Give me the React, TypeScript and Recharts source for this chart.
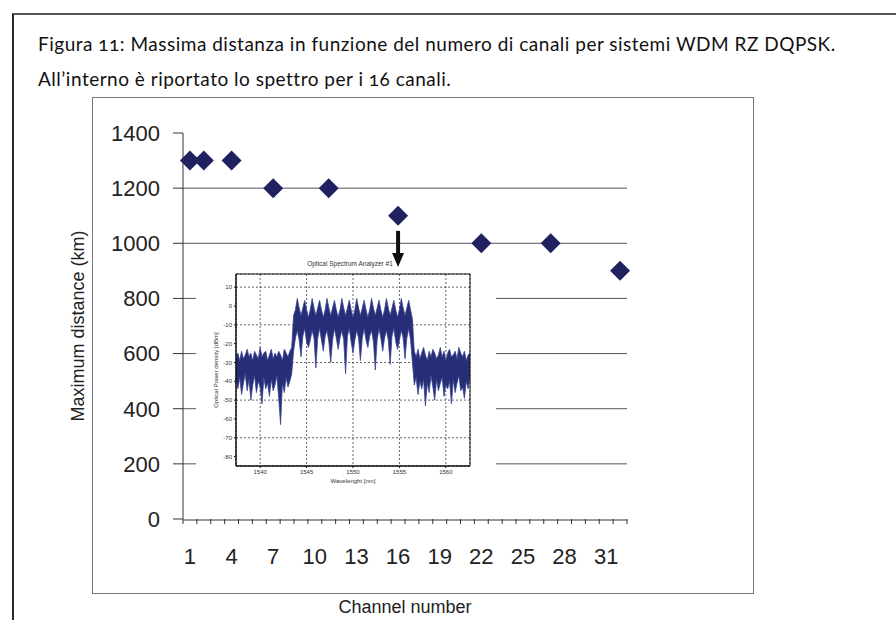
import {
  Area,
  CartesianGrid,
  ComposedChart,
  ReferenceArea,
  ReferenceDot,
  Scatter,
  ScatterChart,
  XAxis,
  YAxis,
} from 'recharts';

// main chart: max distance vs number of channels
const channels = [1, 2, 4, 7, 11, 16, 22, 27, 32];
const maxDistance = [1300, 1300, 1300, 1200, 1200, 1100, 1000, 1000, 900];
const channelLabelTicks = [1, 4, 7, 10, 13, 16, 19, 22, 25, 28, 31];
const channelTickMarks = [
  0.5, 1.5, 2.5, 3.5, 4.5, 5.5, 6.5, 7.5, 8.5, 9.5, 10.5, 11.5, 12.5, 13.5,
  14.5, 15.5, 16.5, 17.5, 18.5, 19.5, 20.5, 21.5, 22.5, 23.5, 24.5, 25.5,
  26.5, 27.5, 28.5, 29.5, 30.5, 31.5, 32.5,
];
const distanceTicks = [0, 200, 400, 600, 800, 1000, 1200, 1400];
const distanceGrid = [200, 400, 600, 800, 1000, 1200];
const arrowChannel = 16;
const arrowTop = 1045;

// inset: optical spectrum for 16 channels
const spectrumWavelength = [
  1537.4, 1537.6, 1537.8, 1538.0, 1538.2, 1538.4, 1538.6, 1538.8, 1539.0, 1539.2,
  1539.4, 1539.6, 1539.8, 1540.0, 1540.2, 1540.4, 1540.6, 1540.8, 1541.0, 1541.2,
  1541.4, 1541.6, 1541.8, 1542.0, 1542.2, 1542.4, 1542.6, 1542.8, 1543.0, 1543.2,
  1543.4,
  1543.6, 1543.8, 1544.0, 1544.2, 1544.4, 1544.6, 1544.8, 1545.0, 1545.2, 1545.4,
  1545.6, 1545.8, 1546.0, 1546.2, 1546.4, 1546.6, 1546.8, 1547.0, 1547.2, 1547.4,
  1547.6, 1547.8, 1548.0, 1548.2, 1548.4, 1548.6, 1548.8, 1549.0, 1549.2, 1549.4,
  1549.6, 1549.8, 1550.0, 1550.2, 1550.4, 1550.6, 1550.8, 1551.0, 1551.2, 1551.4,
  1551.6, 1551.8, 1552.0, 1552.2, 1552.4, 1552.6, 1552.8, 1553.0, 1553.2, 1553.4,
  1553.6, 1553.8, 1554.0, 1554.2, 1554.4, 1554.6, 1554.8, 1555.0, 1555.2, 1555.4,
  1555.6, 1555.8, 1556.0, 1556.2, 1556.4,
  1556.6, 1556.8, 1557.0, 1557.2, 1557.4, 1557.6, 1557.8, 1558.0, 1558.2, 1558.4,
  1558.6, 1558.8, 1559.0, 1559.2, 1559.4, 1559.6, 1559.8, 1560.0, 1560.2, 1560.4,
  1560.6, 1560.8, 1561.0, 1561.2, 1561.4, 1561.6, 1561.8, 1562.0, 1562.2, 1562.4,
  1562.6,
];
const spectrumHigh = [
  -27, -25, -29, -24, -28, -26, -23, -27, -25, -29, -24, -26, -28, -22, -27, -25,
  -24, -29, -26, -23, -28, -25, -27, -24, -26, -29, -23, -25, -27, -24, -22,
  -5,
  -2, 4, -1, -5, -1, 3, -2, -6, -2, 4, -1, -5, -1, 3, -2, -6,
  -2, 4, -1, -5, -1, 3, -2, -6, -2, 4, -1, -5, -1, 3, -2, -6,
  -2, 4, -1, -5, -1, 3, -2, -6, -2, 4, -1, -5, -1, 3, -2, -6,
  -2, 4, -1, -5, -1, 3, -2, -6, -2, 4, -1, -5, -1, 3, -2, -7,
  -24, -27, -23, -28, -25, -22, -26, -29, -24, -27, -23, -25, -28, -26, -22, -27,
  -24, -29, -25, -23, -27, -26, -24, -28, -22, -25, -27, -24, -29, -26, -25,
];
const spectrumLow = [
  -40, -44, -38, -47, -41, -36, -45, -39, -50, -42, -37, -46, -40, -43, -52, -38,
  -44, -41, -48, -39, -45, -42, -37, -49, -63, -41, -46, -38, -43, -40, -36,
  -24,
  -17, -13, -18, -27, -16, -12, -19, -22, -18, -13, -17, -33, -17, -12, -18, -24,
  -16, -13, -19, -30, -18, -12, -17, -23, -17, -13, -18, -36, -16, -12, -19, -25,
  -18, -13, -17, -29, -17, -12, -18, -22, -16, -13, -19, -34, -18, -12, -17, -24,
  -17, -13, -18, -31, -16, -12, -19, -23, -18, -13, -17, -28, -17, -12, -18, -30,
  -42, -38, -47, -40, -44, -39, -53, -41, -46, -37, -43, -50, -39, -45, -41, -38,
  -48, -42, -44, -40, -52, -39, -46, -41, -37, -45, -43, -49, -40, -44, -38,
];
const wavelengthTicks = [1540, 1545, 1550, 1555, 1560];
const powerTicks = [-80, -70, -60, -50, -40, -30, -20, -10, 0, 10];

const mainData = channels.map((c, i) => ({ channel: c, distance: maxDistance[i] }));
const spectrumData = spectrumWavelength.map((w, i) => ({
  wl: w,
  range: [spectrumLow[i], spectrumHigh[i]],
}));

const AXIS_FONT = '"Liberation Sans", Arial, sans-serif';
const NAVY = '#1f2160';

const Diamond = (props: any) => {
  const { cx, cy } = props;
  const r = 10;
  return (
    <polygon
      points={`${cx},${cy - r} ${cx + r},${cy} ${cx},${cy + r} ${cx - r},${cy}`}
      fill={NAVY}
    />
  );
};

const DownArrow = (props: any) => {
  const { cx, cy } = props;
  return (
    <g>
      <rect x={cx - 2} y={cy} width={4} height={25} fill="#111" />
      <polygon
        points={`${cx - 6},${cy + 22} ${cx + 6},${cy + 22} ${cx},${cy + 36}`}
        fill="#111"
      />
    </g>
  );
};

function SpectrumInset() {
  const tick = { fontSize: 6, fill: '#333', fontFamily: AXIS_FONT };
  return (
    <ComposedChart
      width={300}
      height={218}
      data={spectrumData}
      margin={{ top: 4, right: 26, bottom: 4, left: 16 }}
    >
      <CartesianGrid stroke="#222" strokeDasharray="2 2" strokeWidth={0.7} />
      <XAxis
        dataKey="wl"
        type="number"
        domain={[1537.4, 1562.6]}
        ticks={wavelengthTicks}
        allowDataOverflow
        height={18}
        tick={tick}
        tickSize={2}
        tickMargin={2}
        stroke="#111"
        label={{
          value: 'Wavelenght [nm]',
          position: 'insideBottom',
          offset: 1,
          style: { fontSize: 6, fill: '#333', fontFamily: AXIS_FONT },
        }}
      />
      <YAxis
        type="number"
        domain={[-85, 17]}
        ticks={powerTicks}
        allowDataOverflow
        width={24}
        tick={tick}
        tickSize={2}
        tickMargin={2}
        stroke="#111"
        label={{
          value: 'Optical Power density [dBm]',
          angle: -90,
          position: 'insideLeft',
          offset: 4,
          style: { fontSize: 6, fill: '#333', fontFamily: AXIS_FONT, textAnchor: 'middle' },
        }}
      />
      <Area
        dataKey="range"
        type="linear"
        stroke="#3a4390"
        strokeWidth={0.8}
        fill="#262e78"
        fillOpacity={1}
        isAnimationActive={false}
      />
      <ReferenceArea
        x1={1537.4}
        x2={1562.6}
        y1={-85}
        y2={17}
        fill="none"
        stroke="#111"
        strokeWidth={1}
        ifOverflow="visible"
      />
    </ComposedChart>
  );
}

const titleStyle = {
  position: 'absolute' as const,
  left: 38,
  fontFamily: 'Lato, "Open Sans", sans-serif',
  fontSize: 19,
  letterSpacing: 0.5,
  fontVariantNumeric: 'oldstyle-nums',
  color: '#111',
  lineHeight: '22px',
  whiteSpace: 'nowrap' as const,
};

export default function App() {
  return (
    <div
      style={{
        position: 'fixed',
        left: 0,
        top: 0,
        width: 896,
        height: 620,
        overflow: 'hidden',
        background: '#fff',
      }}
    >
      {/* outer figure box */}
      <div
        style={{
          position: 'absolute',
          left: 12,
          top: 13,
          width: 1000,
          height: 800,
          borderLeft: '2px solid #2a2a2a',
          borderTop: '2px solid #555',
        }}
      />
      <div style={{ ...titleStyle, top: 33 }}>
        Figura 11: Massima distanza in funzione del numero di canali per sistemi WDM RZ DQPSK.
      </div>
      <div style={{ ...titleStyle, top: 68 }}>
        All’interno è riportato lo spettro per i 16 canali.
      </div>
      {/* chart frame */}
      <div
        style={{
          position: 'absolute',
          left: 92,
          top: 97,
          width: 660,
          height: 495,
          border: '1px solid #777',
        }}
      />
      <div style={{ position: 'absolute', left: 0, top: 0 }}>
        <ScatterChart
          width={896}
          height={620}
          margin={{ top: 133, right: 269, bottom: 1, left: 73 }}
        >
          <CartesianGrid
            horizontal
            vertical={false}
            horizontalValues={distanceGrid}
            stroke="#555"
          />
          {/* minor tick marks at category boundaries, sits right on the plot bottom */}
          <XAxis
            xAxisId={0}
            type="number"
            dataKey="channel"
            domain={[0.5, 32.5]}
            ticks={channelTickMarks}
            interval={0}
            height={1}
            axisLine={false}
            tickSize={5}
            tickFormatter={() => ''}
            stroke="#333"
          />
          <XAxis
            xAxisId="labels"
            type="number"
            dataKey="channel"
            domain={[0.5, 32.5]}
            ticks={channelLabelTicks}
            interval={0}
            height={99}
            tickLine={false}
            tickSize={7}
            tickMargin={21}
            stroke="#333"
            tick={{ fontSize: 22, fill: '#222', fontFamily: AXIS_FONT }}
            label={{
              value: 'Channel number',
              position: 'insideBottom',
              offset: 6,
              style: { fontSize: 18, fill: '#222', fontFamily: AXIS_FONT },
            }}
          />
          <YAxis
            type="number"
            dataKey="distance"
            domain={[0, 1400]}
            ticks={distanceTicks}
            interval={0}
            width={110}
            tickSize={10}
            tickMargin={13}
            stroke="#333"
            tick={{ fontSize: 22, fill: '#222', fontFamily: AXIS_FONT }}
            label={{
              value: 'Maximum distance (km)',
              angle: -90,
              position: 'insideLeft',
              offset: 5,
              style: { fontSize: 18, fill: '#222', fontFamily: AXIS_FONT, textAnchor: 'middle' },
            }}
          />
          <Scatter xAxisId={0} data={mainData} shape={Diamond} isAnimationActive={false} />
          <Scatter xAxisId="labels" data={mainData} shape={() => <g />} isAnimationActive={false} />
          <ReferenceDot xAxisId={0} x={arrowChannel} y={arrowTop} shape={DownArrow} />
        </ScatterChart>
      </div>
      {/* inset spectrum */}
      <div
        style={{
          position: 'absolute',
          left: 300,
          top: 260,
          width: 100,
          textAlign: 'center',
          fontSize: 6.5,
          fontFamily: AXIS_FONT,
          color: '#333',
          whiteSpace: 'nowrap',
        }}
      >
        Optical Spectrum Analyzer #1
      </div>
      <div
        style={{
          position: 'absolute',
          left: 196,
          top: 270,
          width: 300,
          height: 218,
          background: '#fff',
        }}
      >
        <SpectrumInset />
      </div>
    </div>
  );
}
